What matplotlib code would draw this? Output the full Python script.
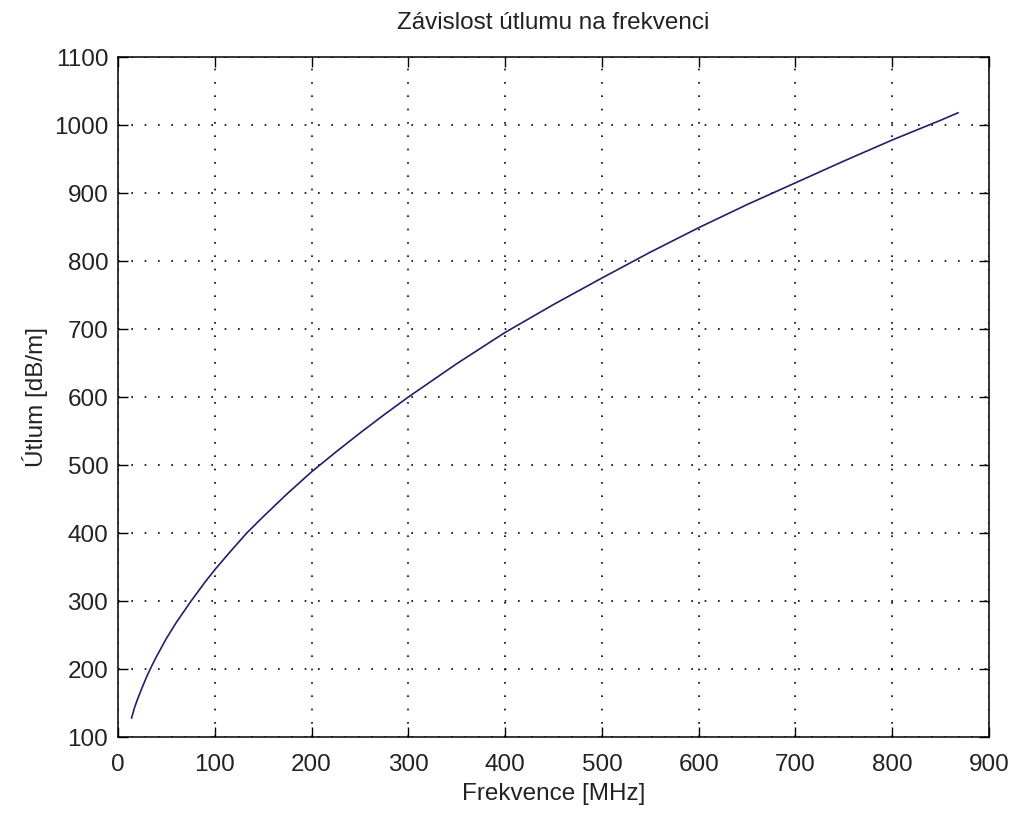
import matplotlib
matplotlib.use('Agg')
import matplotlib.pyplot as plt

# values
freq_mhz = [14, 17, 20, 25, 30, 35, 40, 50, 60, 75, 90, 100, 115, 133, 150, 175,
            200, 225, 250, 275, 300, 350, 400, 450, 500, 550, 600, 650, 700,
            750, 800, 850, 868]
atten_db = [128, 143, 155, 173, 190, 205, 219, 245, 268, 299, 328, 346, 371, 400,
            424, 458, 490, 519, 547, 574, 600, 649, 695, 736, 775, 813, 849, 883,
            915, 947, 978, 1007, 1018]

x_ticks = list(range(0, 1000, 100))
y_ticks = list(range(100, 1200, 100))

plt.rcParams['font.family'] = ['Liberation Sans', 'DejaVu Sans']
txt_color = '#222222'
fs = 17.5

fig = plt.figure(figsize=(10.14, 8.15), dpi=100)
ax = fig.add_axes([0.1164, 0.0957, 0.8589, 0.8343])

ax.plot(freq_mhz, atten_db, color='#20206a', linewidth=1.2)

ax.set_xlim(0, 900)
ax.set_ylim(100, 1100)
ax.set_xticks(x_ticks)
ax.set_yticks(y_ticks)
ax.grid(True, linestyle=(0, (1, 7)), color='black', linewidth=1.2)
ax.tick_params(direction='in', length=7, width=1, top=True, right=True,
               labelsize=fs, colors='black', labelcolor=txt_color)
ax.tick_params(axis='x', pad=12)
ax.tick_params(axis='y', pad=7)
for s in ax.spines.values():
    s.set_linewidth(1.1)

ax.set_xlabel('Frekvence [MHz]', fontsize=fs, color=txt_color, labelpad=5)
ax.set_ylabel('Útlum [dB/m]', fontsize=fs, color=txt_color, labelpad=4)
ax.set_title('Závislost útlumu na frekvenci', fontsize=fs, color=txt_color, pad=20)

fig.savefig('out.png', dpi=100)
